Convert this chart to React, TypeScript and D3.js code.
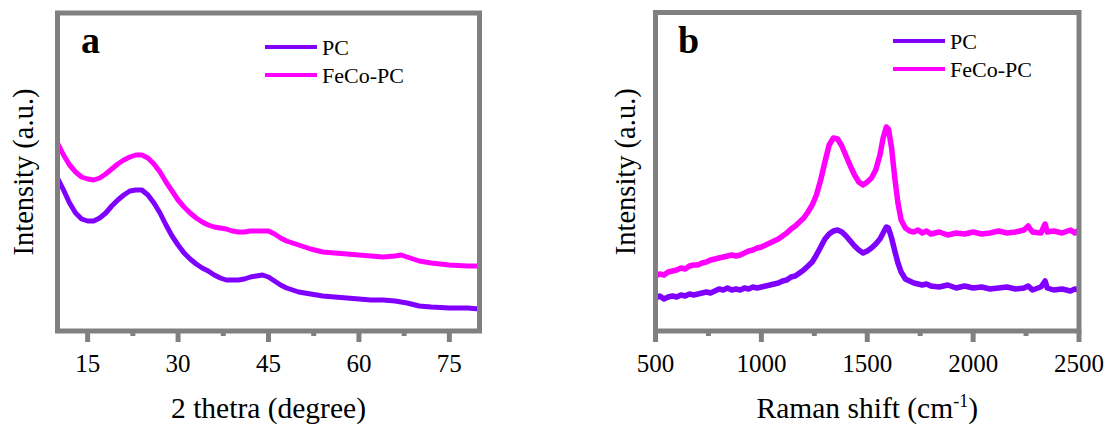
import React from "react";
import * as d3 from "d3";

// ---------- Data: XRD (panel a) ----------
const xrdTheta = [10, 11, 12, 13, 14, 15, 16, 17, 18, 19, 20, 21, 22, 23, 24, 25, 26, 27, 28, 29, 30, 31, 32, 33, 34, 35, 36, 37, 38, 39, 40, 41, 42, 43, 44, 45, 46, 47, 48, 49, 50, 52, 54, 56, 58, 60, 62, 64, 66, 67, 68, 70, 72, 75, 78, 80];
const xrdPC = [152, 140, 127, 117, 111, 109, 109, 112, 117, 124, 130, 135, 139, 140, 140, 135, 127, 117, 105, 94, 85, 77, 71, 66, 62, 59, 55, 52, 50, 50, 50, 51, 53, 54, 55, 53, 49, 45, 42, 40, 38, 36, 34, 33, 32, 31, 30, 30, 29, 28, 27, 24, 23, 22, 22, 21];
const xrdFeCo = [187, 175, 165, 158, 153, 151, 150, 152, 156, 161, 166, 170, 173, 175, 175, 172, 166, 158, 148, 139, 130, 123, 117, 112, 108, 105, 103, 102, 101, 99, 98, 98, 99, 99, 99, 99, 96, 92, 89, 87, 85, 81, 78, 77, 76, 75, 74, 73, 74, 75, 73, 69, 67, 65, 64, 64];

// ---------- Data: Raman (panel b) ----------
const ramanShift = [500, 520, 540, 560, 580, 600, 620, 640, 660, 680, 700, 720, 740, 760, 780, 800, 820, 840, 860, 880, 900, 920, 940, 960, 980, 1000, 1020, 1040, 1060, 1080, 1100, 1120, 1140, 1160, 1180, 1200, 1220, 1240, 1260, 1280, 1300, 1320, 1340, 1360, 1380, 1400, 1420, 1440, 1460, 1480, 1500, 1520, 1540, 1560, 1575, 1590, 1600, 1615, 1630, 1645, 1660, 1680, 1700, 1720, 1740, 1760, 1780, 1800, 1840, 1880, 1920, 1960, 2000, 2040, 2080, 2120, 2160, 2200, 2240, 2260, 2280, 2320, 2340, 2350, 2380, 2420, 2460, 2480, 2500];
const ramanPC = [32, 34, 31, 33, 34, 33, 35, 34, 36, 35, 36, 37, 38, 37, 39, 41, 40, 42, 40, 41, 40, 42, 41, 43, 42, 43, 44, 45, 46, 47, 49, 50, 53, 54, 57, 60, 64, 68, 75, 83, 91, 96, 99, 100, 98, 94, 89, 84, 80, 77, 79, 82, 86, 91, 97, 103, 102, 92, 79, 67, 58, 51, 49, 47, 46, 45, 46, 44, 43, 45, 42, 44, 42, 43, 41, 42, 43, 41, 42, 44, 40, 43, 49, 42, 40, 41, 39, 41, 40];
const ramanFeCo = [54, 56, 55, 58, 59, 60, 62, 61, 64, 65, 65, 67, 68, 70, 71, 72, 73, 74, 75, 74, 75, 77, 79, 80, 82, 83, 85, 87, 89, 91, 94, 97, 101, 104, 108, 112, 118, 125, 135, 150, 168, 185, 192, 191, 184, 174, 164, 155, 148, 145, 148, 152, 160, 175, 192, 203, 201, 182, 152, 127, 110, 102, 99, 98, 100, 97, 99, 96, 98, 95, 97, 96, 98, 96, 97, 99, 97, 98, 100, 104, 98, 97, 106, 98, 99, 97, 100, 97, 100];

const seriesNames = ["PC", "FeCo-PC"];
const seriesColors = ["#8000FF", "#FF00FF"];

const xrdTicks = [15, 30, 45, 60, 75];
const xrdMinorTicks = [22.5, 37.5, 52.5, 67.5];
const ramanTicks = [500, 1000, 1500, 2000, 2500];
const ramanMinorTicks = [750, 1250, 1750, 2250];

const FONT = "'Liberation Serif', 'Times New Roman', serif";
const FRAME = "#808080";

type PanelProps = {
  left: number;
  right: number;
  top: number;
  bottom: number;
  xDomain: [number, number];
  xs: number[];
  ys: number[][];
  lineWidth: number;
  ticks: number[];
  minor: number[];
  letter: string;
  letterX: number;
  xTitle: React.ReactNode;
  yTitleX: number;
  legendX: number;
  legendY: number;
};

function Panel(p: PanelProps) {
  const x = d3.scaleLinear().domain(p.xDomain).range([p.left, p.right]);
  const y = d3.scaleLinear().domain([0, 317]).range([330, 13]);
  const midX = (p.left + p.right) / 2;
  const midY = (p.top + p.bottom) / 2;
  return (
    <g>
      {p.ys.map((vals, si) => {
        const pts: [number, number][] = p.xs.map((v, i) => [v, vals[i]]);
        const line = d3
          .line<[number, number]>()
          .x((d) => x(d[0]))
          .y((d) => y(d[1]))
          .curve(d3.curveLinear);
        return (
          <path
            key={si}
            d={line(pts) || ""}
            fill="none"
            stroke={seriesColors[si]}
            strokeWidth={p.lineWidth}
            strokeLinejoin="round"
          />
        );
      })}
      <rect
        x={p.left}
        y={p.top}
        width={p.right - p.left}
        height={p.bottom - p.top}
        fill="none"
        stroke={FRAME}
        strokeWidth={5}
      />
      {p.ticks.map((t) => (
        <g key={"t" + t}>
          <line x1={x(t)} x2={x(t)} y1={p.bottom} y2={p.bottom + 11} stroke={FRAME} strokeWidth={5} />
          <text x={x(t)} y={372} textAnchor="middle" style={{ fontFamily: FONT }} fontSize={25} fill="#000">
            {t}
          </text>
        </g>
      ))}
      {p.minor.map((t) => (
        <line key={"m" + t} x1={x(t)} x2={x(t)} y1={p.bottom} y2={p.bottom + 5} stroke={FRAME} strokeWidth={5} />
      ))}
      <text x={p.letterX} y={53} style={{ fontFamily: FONT }} fontSize={38} fontWeight="bold" fill="#000">
        {p.letter}
      </text>
      {seriesNames.map((n, i) => (
        <g key={n}>
          <line
            x1={p.legendX}
            x2={p.legendX + 52}
            y1={p.legendY + i * 28}
            y2={p.legendY + i * 28}
            stroke={seriesColors[i]}
            strokeWidth={4}
          />
          <text x={p.legendX + 57} y={p.legendY + i * 28 + 7.5} style={{ fontFamily: FONT }} fontSize={22} fill="#000">
            {n}
          </text>
        </g>
      ))}
      <text x={midX} y={418} textAnchor="middle" style={{ fontFamily: FONT }} fontSize={29.5} fill="#000">
        {p.xTitle}
      </text>
      <text
        transform={`translate(${p.yTitleX},${midY}) rotate(-90)`}
        textAnchor="middle"
        style={{ fontFamily: FONT }}
        fontSize={28.5}
        fill="#000"
      >
        Intensity (a.u.)
      </text>
    </g>
  );
}

export default function App() {
  return (
    <svg
      width={1113}
      height={429}
      style={{ position: "absolute", left: 0, top: 0, background: "#fff" }}
    >
      <rect x={0} y={0} width={1113} height={429} fill="#fff" />
      <Panel
        left={57.5}
        right={479.5}
        top={13}
        bottom={331}
        xDomain={[10, 80]}
        xs={xrdTheta}
        ys={[xrdPC, xrdFeCo]}
        lineWidth={5}
        ticks={xrdTicks}
        minor={xrdMinorTicks}
        letter="a"
        letterX={81}
        xTitle="2 thetra (degree)"
        yTitleX={33}
        legendX={265}
        legendY={47}
      />
      <Panel
        left={655.5}
        right={1079}
        top={12.5}
        bottom={331}
        xDomain={[500, 2500]}
        xs={ramanShift}
        ys={[ramanPC, ramanFeCo]}
        lineWidth={5.5}
        ticks={ramanTicks}
        minor={ramanMinorTicks}
        letter="b"
        letterX={678}
        xTitle={
          <>
            Raman shift (cm
            <tspan dy={-11} fontSize={18}>-1</tspan>
            <tspan dy={11}>)</tspan>
          </>
        }
        yTitleX={635}
        legendX={893}
        legendY={41}
      />
    </svg>
  );
}
